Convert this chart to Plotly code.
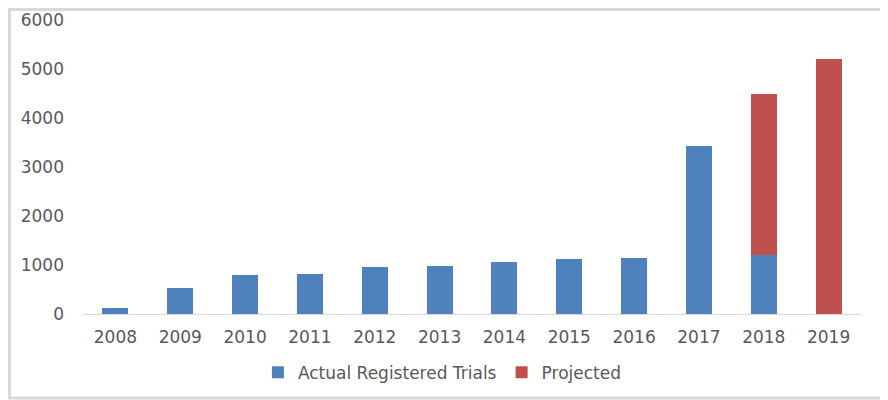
import plotly.graph_objects as go

years = ["2008", "2009", "2010", "2011", "2012", "2013", "2014", "2015", "2016", "2017", "2018", "2019"]
actual = [125, 540, 800, 820, 957, 977, 1066, 1120, 1141, 3428, 1195, None]
projected = [None, None, None, None, None, None, None, None, None, None, 3300, 5205]

# page body has an 8px margin; compensate so the chart lands where the reference has it
W, H = 880, 392
ml, mr, mt, mb = 75, 27, 12, 86
pw, ph = W - ml - mr, H - mt - mb

fig = go.Figure()
fig.add_trace(go.Bar(x=years, y=actual, name="Actual Registered Trials",
                     marker=dict(color="#4F81BD", line=dict(width=0))))
fig.add_trace(go.Bar(x=years, y=projected, name="Projected",
                     marker=dict(color="#C0504D", line=dict(width=0))))

font = dict(family="DejaVu Sans", size=17, color="#595959")
fig.update_layout(
    width=W, height=H, barmode="stack", bargap=0.6,
    margin=dict(l=ml, r=mr, t=mt, b=mb, autoexpand=False),
    paper_bgcolor="white", plot_bgcolor="white",
    font=font,
    showlegend=True,
    legend=dict(orientation="h", x=0.462, xanchor="center", y=-0.2, yanchor="middle",
                font=font, traceorder="normal", itemwidth=30),
    xaxis=dict(showgrid=False, showline=True, linecolor="#D9D9D9", linewidth=1,
               ticks="", ticklabelstandoff=8, tickfont=font, automargin=False),
    yaxis=dict(range=[0, 6000], dtick=1000, showgrid=False, zeroline=False, showline=False,
               ticks="", ticklabelstandoff=18, tickfont=font, automargin=False),
    shapes=[dict(type="rect", xref="paper", yref="paper",
                 x0=(-ml + 1.5) / pw, x1=1 + (mr - 2) / pw,
                 y0=-(mb - 2) / ph, y1=1 + (mt - 1.5) / ph,
                 line=dict(color="#D9D9D9", width=3), layer="below")],
)

fig.write_html("out.html")
